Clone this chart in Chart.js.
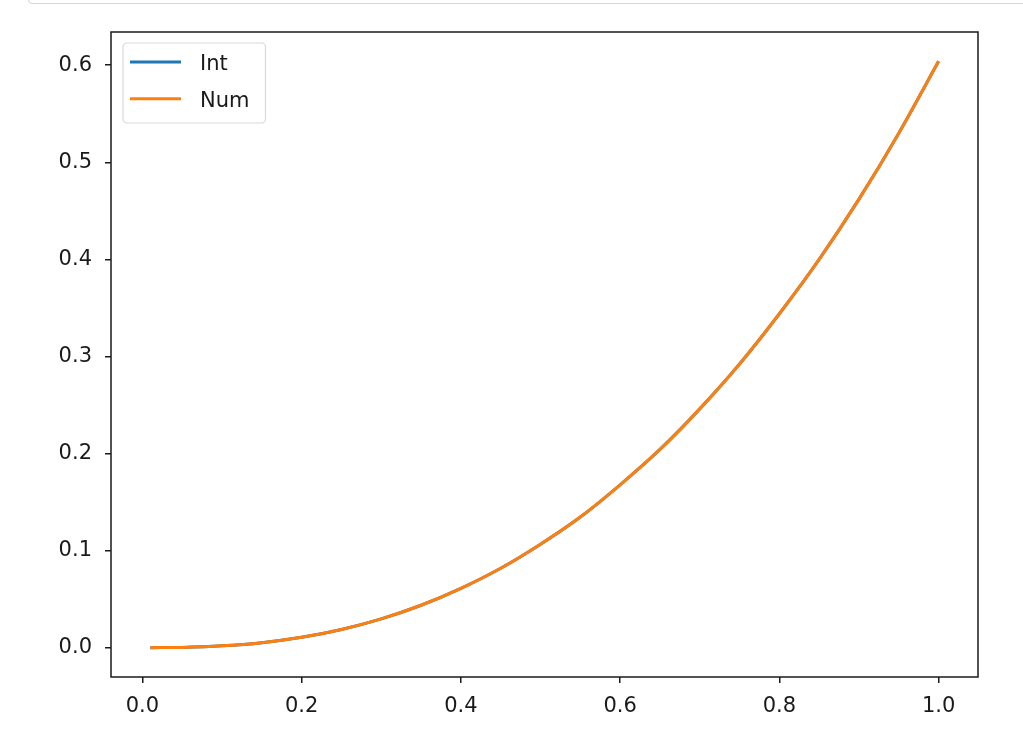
<!DOCTYPE html>
<html>
<head>
<meta charset="utf-8">
<script src="https://cdn.jsdelivr.net/npm/chart.js@4"></script>
<style>
    html, body { margin: 0; padding: 0; background: #fff; }
    #wrap { position: relative; width: 1023px; height: 740px; overflow: hidden; }
    #cell-edge {
        position: absolute; left: 28px; top: -12px; width: 1100px; height: 14px;
        border: 1px solid #d6d6d6; border-radius: 0 0 0 4px;
    }
    #my-chart { position: absolute; left: 0; top: 0; }
</style>
</head>
<body>
<div id="wrap">
    <div id="cell-edge"></div>
    <canvas id="my-chart" width="1023" height="740"></canvas>
</div>
<script>
// values
const xValues = [0.01, 0.05, 0.10, 0.15, 0.20, 0.25, 0.30, 0.35, 0.40, 0.45, 0.50,
                 0.55, 0.60, 0.65, 0.70, 0.75, 0.80, 0.85, 0.90, 0.95, 1.00];
const intValues = [0.0000, 0.0003, 0.0019, 0.0052, 0.0107, 0.0188, 0.0297, 0.0437, 0.0611, 0.0818, 0.1066,
                   0.1346, 0.1678, 0.2042, 0.2460, 0.2922, 0.3440, 0.4000, 0.4620, 0.5300, 0.6040];
const numValues = [0.0000, 0.0003, 0.0019, 0.0052, 0.0107, 0.0188, 0.0297, 0.0437, 0.0611, 0.0818, 0.1066,
                   0.1346, 0.1678, 0.2042, 0.2460, 0.2922, 0.3440, 0.4000, 0.4620, 0.5300, 0.6040];
const seriesNames = ["Int", "Num"];
const xTicks = [0.0, 0.2, 0.4, 0.6, 0.8, 1.0];
const yTicks = [0.0, 0.1, 0.2, 0.3, 0.4, 0.5, 0.6];

const blue = "#1f77b4";
const orange = "#ff7f0e";
const textColor = "#1a1a1a";
const fontFamily = "'DejaVu Sans', sans-serif";

function toPoints(xs, ys) {
    return xs.map(function(x, i) { return { x: x, y: ys[i] }; });
}

// axes box like matplotlib
const frameBox = {
    id: "frameBox",
    afterDatasetsDraw(chart) {
        let ctx = chart.ctx;
        let a = chart.chartArea;
        ctx.save();
        ctx.strokeStyle = "#1a1a1a";
        ctx.lineWidth = 1.5;
        ctx.strokeRect(a.left, a.top, a.right - a.left, a.bottom - a.top);
        ctx.restore();
    }
};

// legend drawn inside the axes, upper left
const innerLegend = {
    id: "innerLegend",
    afterDraw(chart) {
        let ctx = chart.ctx;
        let a = chart.chartArea;
        ctx.save();
        ctx.font = "21px " + fontFamily;
        let maxText = 0;
        chart.data.datasets.forEach(function(ds) {
            maxText = Math.max(maxText, ctx.measureText(ds.label).width);
        });
        let x0 = a.left + 12;
        let y0 = a.top + 11;
        let rowH = 36.7;
        let w = 77 + maxText + 16;
        let h = 80;
        ctx.beginPath();
        ctx.roundRect(x0, y0, w, h, 4);
        ctx.fillStyle = "rgba(255,255,255,0.8)";
        ctx.fill();
        ctx.strokeStyle = "#d9d9d9";
        ctx.lineWidth = 1.2;
        ctx.stroke();
        chart.data.datasets.forEach(function(ds, i) {
            let y = y0 + 19 + i * rowH;
            ctx.beginPath();
            ctx.moveTo(x0 + 7, y);
            ctx.lineTo(x0 + 58, y);
            ctx.strokeStyle = ds.borderColor;
            ctx.lineWidth = 3;
            ctx.stroke();
            ctx.fillStyle = textColor;
            ctx.textBaseline = "middle";
            ctx.fillText(ds.label, x0 + 77, y + 3);
        });
        ctx.restore();
    }
};

let ctx = document.getElementById("my-chart").getContext("2d");
let curveChart = new Chart(ctx, {
    type: "line",
    data: {
        datasets: [{
            label: seriesNames[0],
            data: toPoints(xValues, intValues),
            borderColor: blue,
            borderWidth: 3,
            pointRadius: 0,
            cubicInterpolationMode: "monotone",
            order: 1
        }, {
            label: seriesNames[1],
            data: toPoints(xValues, numValues),
            borderColor: orange,
            borderWidth: 3,
            pointRadius: 0,
            cubicInterpolationMode: "monotone",
            order: 0
        }]
    },
    options: {
        responsive: false,
        animation: false,
        layout: { padding: { left: 0, top: 32, right: 45, bottom: 0 } },
        plugins: {
            legend: { display: false },
            tooltip: { enabled: false }
        },
        scales: {
            x: {
                type: "linear",
                min: -0.0395,
                max: 1.0495,
                afterBuildTicks: function(scale) {
                    scale.ticks = xTicks.map(function(v) { return { value: v }; });
                },
                afterFit: function(scale) { scale.height = 63; },
                grid: {
                    drawOnChartArea: false,
                    drawTicks: true,
                    tickLength: 6,
                    tickColor: "#1a1a1a",
                    lineWidth: 1.5
                },
                border: { display: false },
                ticks: {
                    color: textColor,
                    font: { family: fontFamily, size: 21 },
                    padding: 11,
                    maxRotation: 0,
                    autoSkip: false,
                    callback: function(v) { return v.toFixed(1); }
                }
            },
            y: {
                type: "linear",
                min: -0.0302,
                max: 0.6342,
                afterBuildTicks: function(scale) {
                    scale.ticks = yTicks.map(function(v) { return { value: v }; });
                },
                afterFit: function(scale) { scale.width = 111; },
                grid: {
                    drawOnChartArea: false,
                    drawTicks: true,
                    tickLength: 6,
                    tickColor: "#1a1a1a",
                    lineWidth: 1.5
                },
                border: { display: false },
                ticks: {
                    color: textColor,
                    font: { family: fontFamily, size: 21 },
                    padding: 13,
                    autoSkip: false,
                    callback: function(v) { return v.toFixed(1); }
                }
            }
        }
    },
    plugins: [frameBox, innerLegend]
});
</script>
</body>
</html>
